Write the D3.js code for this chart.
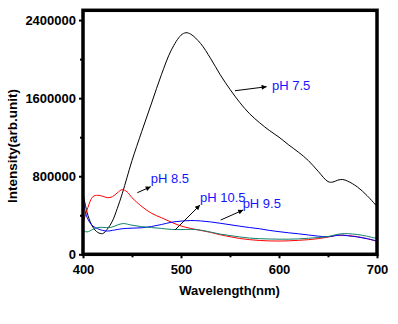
<!DOCTYPE html>
<html>
<head>
<meta charset="utf-8">
<script src="https://cdn.jsdelivr.net/npm/d3@7"></script>
<style>
  html, body { margin: 0; padding: 0; background: #fff; }
  svg { display: block; font-family: "Liberation Sans", Arial, sans-serif; }
</style>
</head>
<body>
<div id="chart"></div>
<script>
// emission spectra at four pH values

// pH 7.5
const wl75 = [400, 405, 410, 415, 420, 425, 430, 435, 440, 445, 450, 460, 470, 480, 490, 500, 505, 510, 520, 530, 540, 550, 560, 570, 580, 590, 600, 610, 620, 630, 640, 650, 655, 660, 665, 670, 680, 690, 700];
const int75 = [625000, 400000, 280000, 225000, 212000, 260000, 340000, 470000, 620000, 790000, 960000, 1260000, 1550000, 1840000, 2090000, 2245000, 2270000, 2255000, 2160000, 2010000, 1840000, 1690000, 1555000, 1440000, 1350000, 1270000, 1200000, 1120000, 1045000, 960000, 850000, 745000, 740000, 760000, 766000, 750000, 690000, 600000, 490000];

// pH 8.5
const wl85 = [400, 403, 405, 410, 415, 420, 425, 430, 435, 440, 445, 450, 460, 470, 480, 490, 500, 510, 520, 530, 540, 550, 560, 570, 580, 590, 600, 610, 620, 630, 640, 650, 660, 670, 680, 690, 700];
const int85 = [315000, 420000, 480000, 590000, 605000, 595000, 580000, 590000, 630000, 663000, 640000, 580000, 490000, 420000, 375000, 330000, 290000, 265000, 245000, 225000, 200000, 180000, 162000, 150000, 142000, 137000, 136000, 138000, 143000, 150000, 160000, 177000, 195000, 192000, 180000, 160000, 133000];

// pH 9.5
const wl95 = [400, 402, 405, 410, 415, 420, 425, 430, 440, 450, 460, 470, 480, 490, 500, 510, 520, 530, 540, 550, 560, 570, 580, 590, 600, 610, 620, 630, 640, 650, 660, 665, 670, 680, 690, 700];
const int95 = [622000, 450000, 360000, 290000, 262000, 245000, 238000, 245000, 262000, 268000, 272000, 285000, 305000, 328000, 340000, 346000, 342000, 332000, 318000, 303000, 288000, 274000, 262000, 245000, 232000, 220000, 210000, 198000, 186000, 180000, 195000, 196000, 190000, 178000, 160000, 136000];

// pH 10.5
const wl105 = [400, 404, 410, 415, 420, 428, 435, 441, 450, 460, 470, 480, 490, 500, 510, 520, 530, 540, 550, 560, 570, 580, 590, 600, 610, 620, 630, 640, 650, 660, 667, 675, 685, 700];
const int105 = [246000, 229000, 255000, 274000, 276000, 274000, 300000, 315000, 298000, 283000, 274000, 265000, 255000, 253000, 256000, 248000, 228000, 207000, 192000, 178000, 166000, 160000, 157000, 155000, 155000, 158000, 164000, 172000, 182000, 205000, 212000, 208000, 195000, 161000];

const xTicks = [400, 500, 600, 700];
const xMinorTicks = [450, 550, 650];
const yTicks = [0, 800000, 1600000, 2400000];
const yMinorTicks = [400000, 1200000, 2000000];

// label text, label anchor and arrow tail/head, all in data units
const labelText = ['pH 7.5', 'pH 8.5', 'pH 10.5', 'pH 9.5'];
const labelAt = [[592.9, 1688000], [469.1, 727000], [519.4, 539000], [562.9, 471000]];
const arrowFrom = [[555.1, 1676000], [455.4, 631000], [493.9, 249000], [540.5, 351000]];
const arrowTo = [[587.4, 1717000], [469.1, 692000], [519.4, 505000], [563.5, 454000]];

const series = [
  { wl: wl75, val: int75, color: '#000000' },
  { wl: wl85, val: int85, color: '#ff0000' },
  { wl: wl95, val: int95, color: '#0000ff' },
  { wl: wl105, val: int105, color: '#12806e' },
];

const width = 398, height = 324;
const plot = { left: 83, right: 377, top: 10.3, bottom: 254.3 };

const svg = d3.select('#chart').append('svg')
  .attr('width', width)
  .attr('height', height)
  .style('background', '#fff');

const x = d3.scaleLinear().domain([400, 700]).range([plot.left, plot.right]);
const y = d3.scaleLinear().domain([0, 2500000]).range([plot.bottom, plot.top]);

const defs = svg.append('defs');
defs.append('clipPath').attr('id', 'plot-clip')
  .append('rect')
  .attr('x', plot.left).attr('y', plot.top)
  .attr('width', plot.right - plot.left).attr('height', plot.bottom - plot.top);

defs.append('marker')
  .attr('id', 'arrowhead')
  .attr('viewBox', '0 0 10 10')
  .attr('refX', 10).attr('refY', 5)
  .attr('markerWidth', 8).attr('markerHeight', 5)
  .attr('markerUnits', 'userSpaceOnUse')
  .attr('orient', 'auto')
  .append('path')
  .attr('d', 'M0,0 L10,5 L0,10 Z')
  .attr('fill', '#000');

// spectra
const line = d3.line()
  .x((d) => x(d[0]))
  .y((d) => y(d[1]))
  .curve(d3.curveCatmullRom.alpha(0.5));

const curves = svg.append('g').attr('clip-path', 'url(#plot-clip)');
series.forEach((s) => {
  curves.append('path')
    .datum(d3.zip(s.wl, s.val))
    .attr('fill', 'none')
    .attr('stroke', s.color)
    .attr('stroke-width', 1)
    .attr('d', line);
});

// axes: major labelled ticks plus short unlabelled minor ticks
function styleAxis(g) {
  g.select('.domain').remove();
  g.selectAll('.tick line').attr('stroke', '#000').attr('stroke-width', 2);
  g.selectAll('.tick text')
    .attr('fill', '#000')
    .style('font-size', '13px')
    .style('font-weight', 'bold')
    .style('font-family', '"Liberation Sans", Arial, sans-serif');
}

svg.append('g')
  .attr('transform', `translate(0,${plot.bottom})`)
  .call(d3.axisBottom(x).tickValues(xTicks).tickSize(4).tickPadding(6).tickFormat(d3.format('d')))
  .call(styleAxis);
svg.append('g')
  .attr('transform', `translate(0,${plot.bottom})`)
  .call(d3.axisBottom(x).tickValues(xMinorTicks).tickSize(3).tickFormat(''))
  .call(styleAxis);

svg.append('g')
  .attr('transform', `translate(${plot.left},0)`)
  .call(d3.axisLeft(y).tickValues(yTicks).tickSize(4).tickPadding(3).tickFormat(d3.format('d')))
  .call(styleAxis);
svg.append('g')
  .attr('transform', `translate(${plot.left},0)`)
  .call(d3.axisLeft(y).tickValues(yMinorTicks).tickSize(3).tickFormat(''))
  .call(styleAxis);

// frame
svg.append('rect')
  .attr('x', plot.left).attr('y', plot.top)
  .attr('width', plot.right - plot.left).attr('height', plot.bottom - plot.top)
  .attr('fill', 'none')
  .attr('stroke', '#000')
  .attr('stroke-width', 3.5);

// axis titles
svg.append('text')
  .attr('x', (plot.left + plot.right) / 2 - 0.5)
  .attr('y', 294.5)
  .attr('text-anchor', 'middle')
  .style('font-size', '13px')
  .style('font-weight', 'bold')
  .text('Wavelength(nm)');

svg.append('text')
  .attr('transform', 'translate(16.5,146) rotate(-90)')
  .attr('text-anchor', 'middle')
  .style('font-size', '13.5px')
  .style('font-weight', 'bold')
  .text('Intensity(arb.unit)');

// curve labels with arrows
labelText.forEach((t, i) => {
  svg.append('line')
    .attr('x1', x(arrowFrom[i][0])).attr('y1', y(arrowFrom[i][1]))
    .attr('x2', x(arrowTo[i][0])).attr('y2', y(arrowTo[i][1]))
    .attr('stroke', '#000')
    .attr('stroke-width', 1)
    .attr('marker-end', 'url(#arrowhead)');
  svg.append('text')
    .attr('x', x(labelAt[i][0]))
    .attr('y', y(labelAt[i][1]))
    .attr('fill', '#1414ff')
    .style('font-size', '13px')
    .text(t);
});
</script>
</body>
</html>
